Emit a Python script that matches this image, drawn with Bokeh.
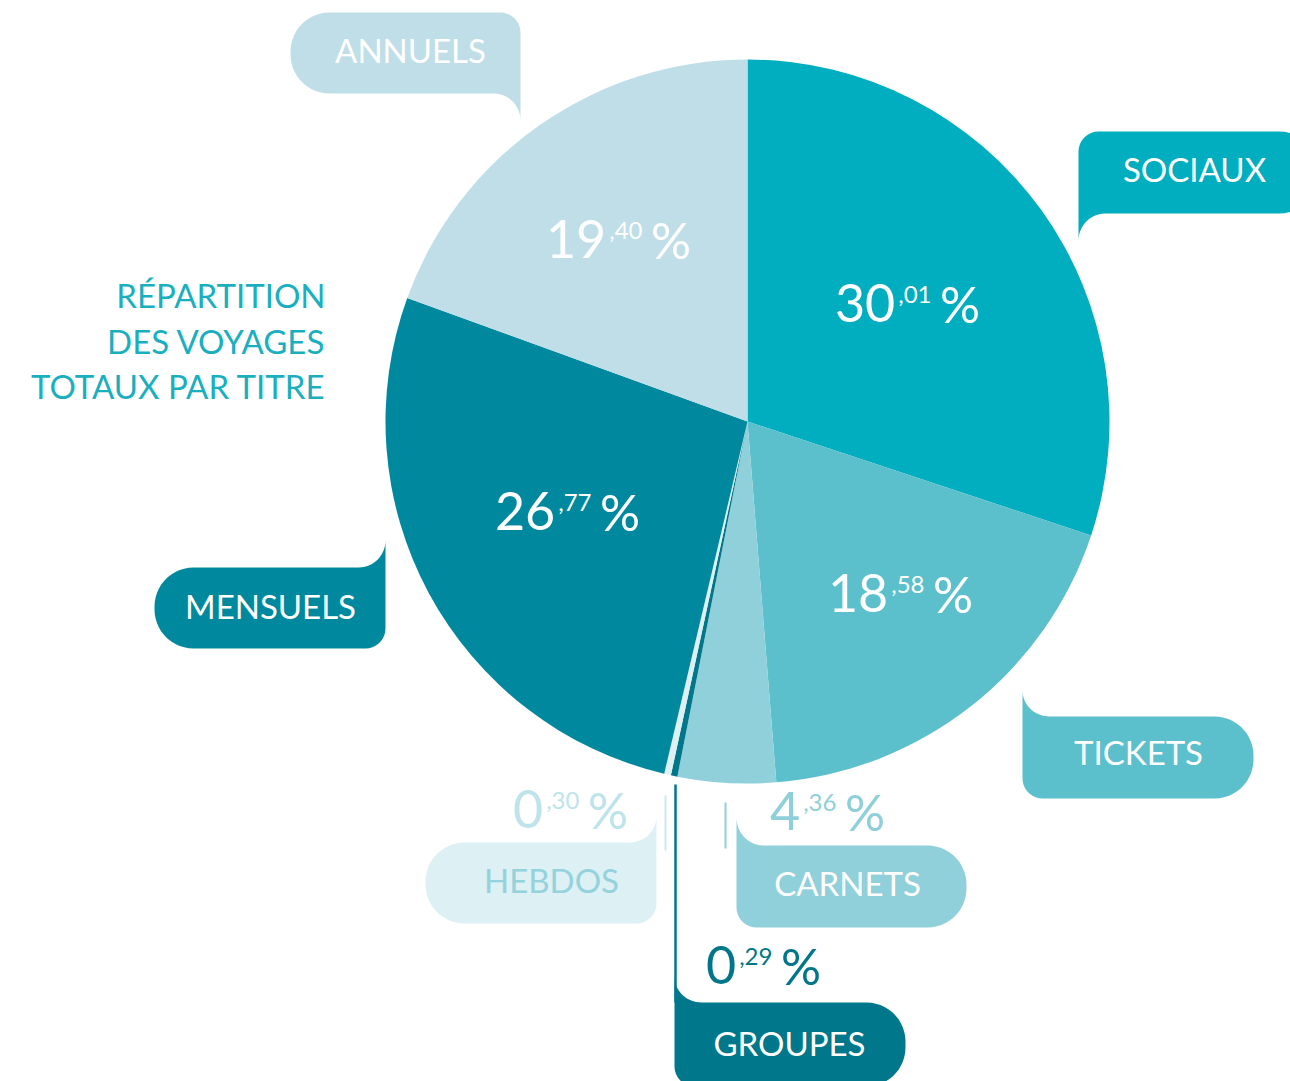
import numpy as np
from bokeh.plotting import figure
from bokeh.models import Range1d, ColumnDataSource
from bokeh.core.properties import value
from bokeh.embed import file_html
from bokeh.resources import INLINE

# ---------------- data ----------------
categories = ["SOCIAUX", "TICKETS", "CARNETS", "GROUPES", "HEBDOS", "MENSUELS", "ANNUELS"]
values = [30.01, 18.58, 4.36, 0.29, 0.30, 26.77, 19.40]
title_lines = ["RÉPARTITION", "DES VOYAGES", "TOTAUX PAR TITRE"]

# ---------------- style / layout ----------------
W, H = 1290, 1081
FONT = "Lato"
slice_colors = ["#00AEBF", "#5BC0CB", "#90D0DA", "#00778B", "#DDF0F3", "#00899E", "#BFDEE7"]
bubble_fill = ["#00AEBF", "#5BC0CB", "#90D0DA", "#00778B", "#DDF0F3", "#00899E", "#BFDEE7"]
bubble_text_color = ["white", "white", "white", "white", "#94D2DC", "white", "white"]
pct_color = ["white", "white", "#8ECFD9", "#00768A", "#BEE3EA", "white", "white"]
TITLE_COLOR = "#1AAFBF"

CX, CY, RADIUS = 747, 421, 362   # pie centre / radius (pixels, y down)
BASE_SHIFT = 0.42                # baseline correction (fraction of font size)

# bubble: x0, y0, width, height, tail corner, tail length
bubble_layout = {
    "ANNUELS":  (290, 12, 230, 81, "br", 27),
    "SOCIAUX":  (1078, 131, 240, 82, "bl", 27),
    "MENSUELS": (154, 567, 231, 81, "tr", 27),
    "TICKETS":  (1022, 716, 231, 82, "tl", 26),
    "HEBDOS":   (425, 842, 231, 81, "tr", 26),
    "CARNETS":  (736, 845, 230, 82, "tl", 28),
    "GROUPES":  (674, 1002, 231, 84, "tl", 26),
}
# bubble label: centre x, baseline y
label_layout = {
    "ANNUELS": (410, 63), "SOCIAUX": (1194, 182), "MENSUELS": (270, 619),
    "TICKETS": (1138, 765), "HEBDOS": (551, 893), "CARNETS": (847, 896),
    "GROUPES": (789, 1056),
}
LABEL_SIZE = 33
# percentage label: centre x, baseline y
pct_layout = {
    "SOCIAUX": (907, 324), "TICKETS": (900, 614), "CARNETS": (827, 832),
    "GROUPES": (763, 986), "HEBDOS": (570, 830), "MENSUELS": (567, 532),
    "ANNUELS": (618, 260),
}
BIG, SMALL, PCT = 52, 24, 50
DIGIT_EM, COMMA_EM, PCT_EM = 0.58, 0.25, 0.80   # approximate Lato advances
GAP1, GAP2 = 3, 8
# leader lines: x, y top, y bottom, colour, width
leaders = [(665, 795, 850, "#CDE9EE", 2), (725, 802, 848, "#8ECFD9", 2),
           (675, 784, 1002, "#00778B", 2.5)]
TITLE_X, TITLE_BASES, TITLE_SIZE = 325, [308, 354, 399], 33


def Y(yp):
    return H - yp


def TY(baseline, size):
    return Y(baseline - BASE_SHIFT * size)


def bubble(x0, y0, w, h, tail, t, c=27, r=20, R=39):
    pts = []
    for th in np.linspace(0, np.pi / 2, 14):
        pts.append((c - c * np.cos(th), -t + t * np.sin(th)))
    for ph in np.linspace(0, np.pi / 2, 14):
        pts.append((w - R + R * np.sin(ph), R - R * np.cos(ph)))
    for ph in np.linspace(0, np.pi / 2, 14):
        pts.append((w - R + R * np.cos(ph), h - R + R * np.sin(ph)))
    for ph in np.linspace(0, np.pi / 2, 10):
        pts.append((r - r * np.sin(ph), h - r + r * np.cos(ph)))
    fx = tail in ("tr", "br")
    fy = tail in ("bl", "br")
    xs = [x0 + (w - lx if fx else lx) for lx, ly in pts]
    ys = [Y(y0 + (h - ly if fy else ly)) for lx, ly in pts]
    return xs, ys


p = figure(width=W, height=H, x_range=Range1d(0, W), y_range=Range1d(0, H),
           output_backend="svg", toolbar_location=None,
           x_axis_location=None, y_axis_location=None, min_border=0)
p.grid.visible = False
p.outline_line_color = None
p.background_fill_color = "white"

# pie
frac = np.array(values) / np.sum(values)
cum = np.concatenate([[0.0], np.cumsum(frac)])
src = ColumnDataSource(dict(
    start=np.pi / 2 - 2 * np.pi * cum[:-1],
    end=np.pi / 2 - 2 * np.pi * cum[1:],
    color=slice_colors, cat=categories))
p.wedge(x=CX, y=Y(CY), radius=RADIUS, start_angle="start", end_angle="end",
        direction="clock", fill_color="color", line_color=None, source=src)

# leader lines
for x, yt, yb, col, lw in leaders:
    p.segment(x0=x, y0=Y(yt), x1=x, y1=Y(yb), line_color=col, line_width=lw)

# bubbles
bxs, bys = [], []
for cat in categories:
    xs, ys = bubble(*bubble_layout[cat])
    bxs.append(xs)
    bys.append(ys)
p.patches(xs=bxs, ys=bys, fill_color=bubble_fill, line_color=None)

# bubble labels
p.text(x=[label_layout[c][0] for c in categories],
       y=[TY(label_layout[c][1], LABEL_SIZE) for c in categories],
       text=categories, text_color=bubble_text_color,
       text_font=value(FONT), text_font_size=f"{LABEL_SIZE}px",
       text_align="center", text_baseline="alphabetic")

# percentages: integer part, raised decimals, big "%"
ints = [f"{v:.2f}".split(".")[0] for v in values]
decs = ["," + f"{v:.2f}".split(".")[1] for v in values]
xi, xd, xp, yb = [], [], [], []
for cat, si, sd in zip(categories, ints, decs):
    cx, base = pct_layout[cat]
    wi = len(si) * DIGIT_EM * BIG
    wd = (COMMA_EM + (len(sd) - 1) * DIGIT_EM) * SMALL
    total = wi + GAP1 + wd + GAP2 + PCT_EM * PCT
    left = cx - total / 2
    xi.append(left + wi)
    xd.append(left + wi + GAP1)
    xp.append(left + wi + GAP1 + wd + GAP2)
    yb.append(base)
p.text(x=xi, y=[TY(b, BIG) for b in yb], text=ints,
       text_color=pct_color, text_font=value(FONT), text_font_size=f"{BIG}px",
       text_align="right", text_baseline="alphabetic")
p.text(x=xd, y=[TY(b - 20, SMALL) for b in yb], text=decs,
       text_color=pct_color, text_font=value(FONT), text_font_size=f"{SMALL}px",
       text_align="left", text_baseline="alphabetic")
p.text(x=xp, y=[TY(b, PCT) for b in yb], text=["%"] * len(yb),
       text_color=pct_color, text_font=value(FONT), text_font_size=f"{PCT}px",
       text_align="left", text_baseline="alphabetic")

# title
p.text(x=[TITLE_X] * 3, y=[TY(b, TITLE_SIZE) for b in TITLE_BASES], text=title_lines,
       text_color=TITLE_COLOR, text_font=value(FONT), text_font_size=f"{TITLE_SIZE}px",
       text_align="right", text_baseline="alphabetic")

open("out.html", "w").write(file_html(p, INLINE))
